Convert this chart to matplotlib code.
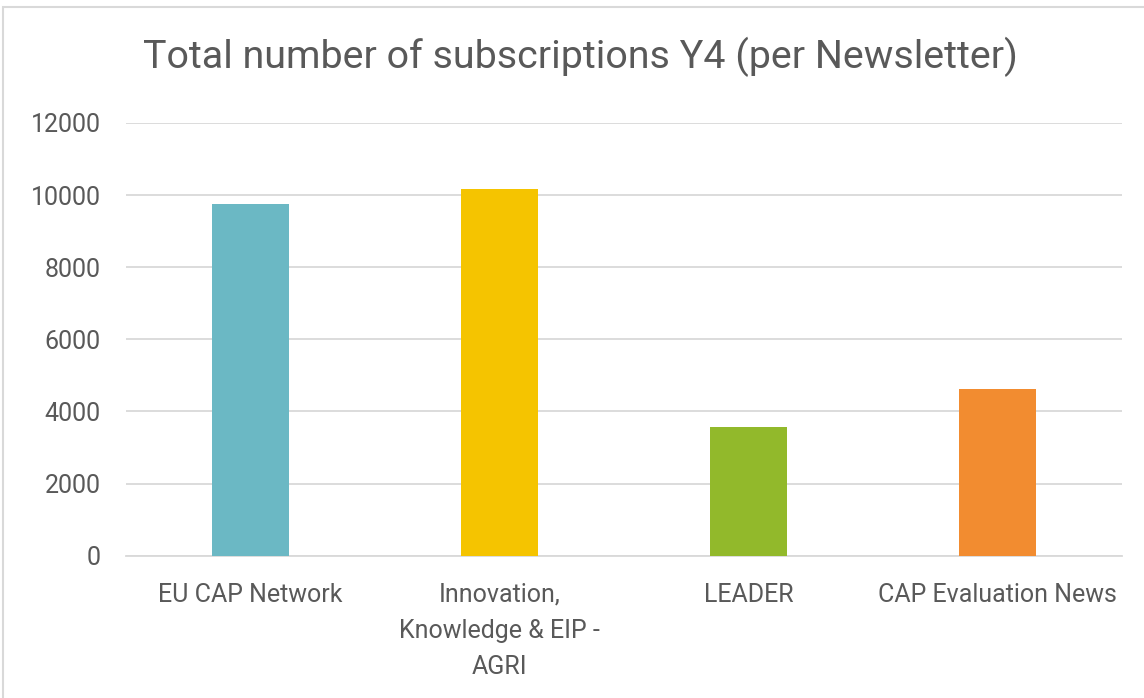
"""Total number of subscriptions Y4 per newsletter - bar chart."""

import matplotlib

matplotlib.use("Agg")
import matplotlib.pyplot as plt
from matplotlib.patches import Rectangle

categories = [
    "EU CAP Network",
    "Innovation,\nKnowledge & EIP -\nAGRI",
    "LEADER",
    "CAP Evaluation News",
]
subscriptions = [9745, 10170, 3578, 4615]
bar_colors = ["#6BB8C4", "#F5C400", "#92B92B", "#F28C30"]
y_ticks = [0, 2000, 4000, 6000, 8000, 10000, 12000]

text_color = "#595959"
grid_color = "#D9D9D9"

plt.rcParams["font.family"] = ["Roboto", "DejaVu Sans"]

fig = plt.figure(figsize=(11.44, 6.98), dpi=100)
ax = fig.add_axes([0.1099, 0.2039, 0.8711, 0.6199])

x = range(len(categories))
ax.bar(x, subscriptions, width=0.31, color=bar_colors, zorder=3)

ax.set_xlim(-0.5, len(categories) - 0.5)
ax.set_ylim(0, 12000)
ax.set_yticks(y_ticks)
ax.set_yticklabels([str(v) for v in y_ticks])
ax.set_xticks(list(x))
ax.set_xticklabels(categories, linespacing=1.63, va="top")

ax.grid(axis="y", color=grid_color, linewidth=1.3, zorder=0)
for side in ["top", "right", "left"]:
    ax.spines[side].set_visible(False)
ax.spines["bottom"].set_color(grid_color)
ax.spines["bottom"].set_linewidth(1.3)

ax.tick_params(axis="both", length=0, colors=text_color, labelsize=18)
ax.tick_params(axis="y", pad=18)
ax.tick_params(axis="x", pad=19.5)

fig.text(0.507, 0.902, "Total number of subscriptions Y4 (per Newsletter)",
         ha="center", va="baseline", fontsize=28.4, color=text_color)

# thin border round the chart area
fig.patches.append(Rectangle((0.003, -0.01), 1.02, 1.0, transform=fig.transFigure,
                             fill=False, edgecolor="#D9D9D9", linewidth=1.5))

fig.savefig("out.png", dpi=100)
